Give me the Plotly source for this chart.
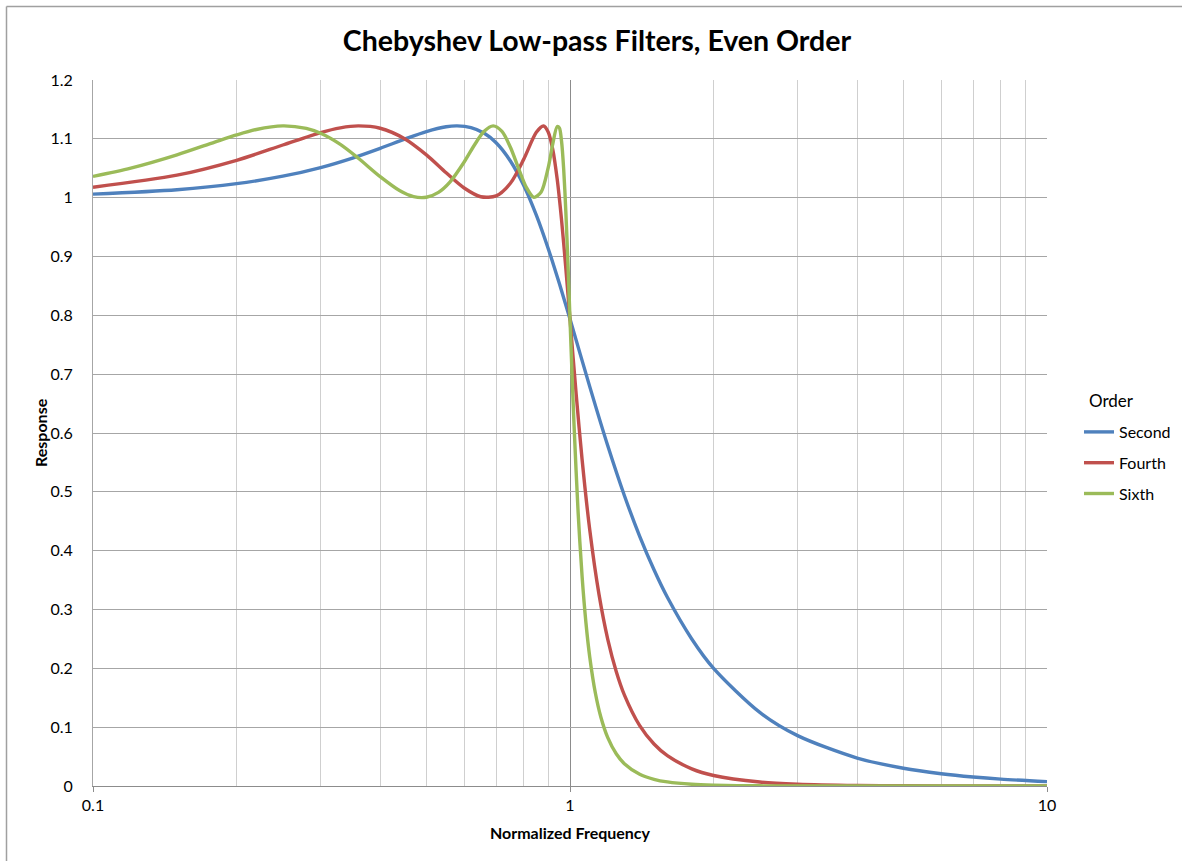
import plotly.graph_objects as go

# Normalized frequency samples and responses
freq_second = [0.1, 0.15, 0.2, 0.25, 0.3, 0.35, 0.4, 0.45, 0.5, 0.55, 0.58, 0.62, 0.66, 0.7,
               0.75, 0.8, 0.85, 0.9, 0.95, 1.0, 1.1, 1.2, 1.3, 1.4, 1.5, 1.6, 1.8, 2.0, 2.5,
               3.0, 4.0, 5.0, 6.0, 7.0, 8.0, 10.0]
resp_second = [1.0061, 1.0135, 1.0238, 1.0365, 1.0512, 1.0674, 1.0839, 1.0995, 1.1124, 1.1205,
               1.1220, 1.1192, 1.1099, 1.0934, 1.0624, 1.0207, 0.9702, 0.9136, 0.8539, 0.7936,
               0.6788, 0.5782, 0.4938, 0.4244, 0.3675, 0.3207, 0.2499, 0.1999, 0.1250, 0.0856,
               0.0475, 0.0302, 0.0209, 0.0153, 0.0117, 0.0075]

freq_fourth = [0.1, 0.15, 0.2, 0.25, 0.3, 0.33, 0.36, 0.4, 0.45, 0.5, 0.55, 0.6, 0.65, 0.7,
               0.75, 0.8, 0.85, 0.88, 0.9, 0.92, 0.94, 0.96, 0.98, 1.0, 1.03, 1.06, 1.1, 1.15,
               1.2, 1.25, 1.3, 1.4, 1.5, 1.6, 1.8, 2.0, 2.5, 3.0, 4.0, 5.0, 7.0, 10.0]
resp_fourth = [1.0177, 1.0382, 1.0635, 1.0895, 1.1107, 1.1187, 1.1220, 1.1180, 1.1002, 1.0727,
               1.0423, 1.0164, 1.0016, 1.0031, 1.0245, 1.0655, 1.1112, 1.1219, 1.1117, 1.0822,
               1.0316, 0.9623, 0.8804, 0.7935, 0.6669, 0.5554, 0.4355, 0.3261, 0.2494, 0.1947,
               0.1549, 0.1026, 0.0714, 0.0515, 0.0292, 0.0179, 0.0067, 0.0031, 0.0009, 0.0004,
               0.0001, 0.0000]

freq_sixth = [0.1, 0.12, 0.15, 0.18, 0.2, 0.22, 0.25, 0.28, 0.3, 0.33, 0.36, 0.4, 0.44, 0.47,
              0.5, 0.53, 0.56, 0.6, 0.63, 0.66, 0.69, 0.72, 0.75, 0.78, 0.81, 0.84, 0.87, 0.9,
              0.92, 0.94, 0.95, 0.96, 0.97, 0.98, 0.99, 1.0, 1.01, 1.02, 1.04, 1.06, 1.08, 1.1,
              1.13, 1.16, 1.2, 1.25, 1.3, 1.4, 1.5, 1.6, 1.8, 2.0, 2.5, 3.0, 4.0, 6.0, 10.0]
resp_sixth = [1.0361, 1.0502, 1.0728, 1.0945, 1.1067, 1.1159, 1.1220, 1.1177, 1.1094, 1.0905,
              1.0670, 1.0357, 1.0116, 1.0017, 1.0007, 1.0090, 1.0264, 1.0606, 1.0891, 1.1123,
              1.1220, 1.1127, 1.0857, 1.0499, 1.0175, 1.0006, 1.0095, 1.0506, 1.0911, 1.1209,
              1.1186, 1.0958, 1.0483, 0.9772, 0.8890, 0.7934, 0.6990, 0.6112, 0.4651, 0.3566,
              0.2775, 0.2194, 0.1585, 0.1178, 0.0822, 0.0548, 0.0380, 0.0200, 0.0114, 0.0069,
              0.0029, 0.0014, 0.0003, 0.0001, 0.0000, 0.0000, 0.0000]

series_names = ["Second", "Fourth", "Sixth"]
series_colors = ["#4F81BD", "#C0504D", "#9BBB59"]
x_tick_vals = [0.1, 1, 10]
x_tick_text = ["0.1", "1", "10"]
y_tick_vals = [0, 0.1, 0.2, 0.3, 0.4, 0.5, 0.6, 0.7, 0.8, 0.9, 1.0, 1.1, 1.2]
y_tick_text = ["0", "0.1", "0.2", "0.3", "0.4", "0.5", "0.6", "0.7", "0.8", "0.9", "1", "1.1", "1.2"]
minor_grid = [0.2, 0.3, 0.4, 0.5, 0.6, 0.7, 0.8, 0.9, 2, 3, 4, 5, 6, 7, 8, 9]

FONT = "Lato, 'Open Sans', sans-serif"

W, H = 1182, 861
L, R, T, B = 93, 1047, 80, 786   # plot area edges in page pixels
PW, PH = R - L, B - T


def px(x):
    return (x - L) / PW


def py(y):
    return (B - y) / PH


fig = go.Figure()
data = [(freq_second, resp_second), (freq_fourth, resp_fourth), (freq_sixth, resp_sixth)]
for (fx, fy), name, color in zip(data, series_names, series_colors):
    fig.add_trace(go.Scatter(
        x=fx, y=fy, mode="lines", name=name, legendgroup=name,
        line=dict(color=color, width=3.4, shape="spline", smoothing=0.8),
    ))

fig.update_layout(
    width=W, height=H,
    margin=dict(l=L, r=W - R, t=T, b=H - B, autoexpand=False),
    paper_bgcolor="white", plot_bgcolor="white",
    font=dict(family=FONT, color="#000000", size=16),
    title=dict(text="<b>Chebyshev Low-pass Filters, Even Order</b>",
               x=px(597), xref="paper", xanchor="center",
               y=1 - 41 / H, yanchor="middle",
               font=dict(family=FONT, size=28.5, color="#000000")),
    showlegend=True,
    legend=dict(
        x=px(1079), xanchor="left", y=py(415), yanchor="top",
        font=dict(size=16), tracegroupgap=7, itemwidth=30,
        bgcolor="rgba(0,0,0,0)",
    ),
    xaxis=dict(
        type="log", range=[-1, 1],
        tickvals=x_tick_vals, ticktext=x_tick_text,
        showgrid=True, gridcolor="#8C8C8C", gridwidth=1,
        ticks="outside", ticklen=5, tickcolor="#8C8C8C",
        showline=True, linecolor="#8C8C8C", linewidth=1,
        zeroline=False, tickfont=dict(size=16),
        minor=dict(tickvals=minor_grid, showgrid=True, gridcolor="#CFCFCF", gridwidth=1, ticks=""),
        title=dict(text="<b>Normalized Frequency</b>", font=dict(size=16), standoff=14),
    ),
    yaxis=dict(
        range=[0, 1.2], tickvals=y_tick_vals, ticktext=y_tick_text,
        showgrid=True, gridcolor="#A6A6A6", gridwidth=1,
        showline=True, linecolor="#A6A6A6", linewidth=1,
        zeroline=False, ticks="", tickfont=dict(size=16),
        ticklabelstandoff=16,
    ),
    annotations=[
        dict(text="<b>Response</b>", xref="paper", yref="paper", x=px(40), y=py(433),
             xanchor="center", yanchor="middle", textangle=-90, showarrow=False,
             font=dict(size=16, family=FONT, color="#000000")),
        dict(text="Order", xref="paper", yref="paper", x=px(1087), y=py(400),
             xanchor="left", yanchor="middle", showarrow=False,
             font=dict(size=17, family=FONT, color="#000000")),
    ],
)

# Outer chart border (top and left edges visible in the reference)
fig.add_shape(type="line", xref="paper", yref="paper",
              x0=px(6.5), x1=px(W + 5), y0=py(6.5), y1=py(6.5),
              line=dict(color="#A0A0A0", width=1.5), layer="below")
fig.add_shape(type="line", xref="paper", yref="paper",
              x0=px(6.5), x1=px(6.5), y0=py(6.5), y1=py(H + 5),
              line=dict(color="#A0A0A0", width=1.5), layer="below")

fig.write_html("out.html", config={"displayModeBar": False},
               post_script="document.body.style.margin='0';")
